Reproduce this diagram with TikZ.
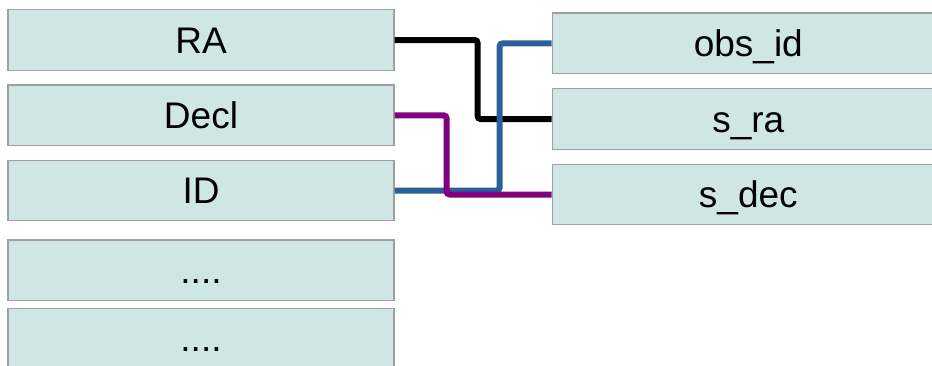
\documentclass[tikz,border=0pt]{standalone}
\usepackage{fontspec}
\setmainfont{Liberation Sans}

\definecolor{cellfill}{RGB}{207,231,228}
\definecolor{cellline}{RGB}{160,160,160}
\definecolor{linkblue}{RGB}{42,96,153}
\definecolor{linkpurple}{RGB}{128,0,128}

\tikzset{
    cell/.style={draw=cellline, line width=1.2pt, fill=cellfill,
        minimum width=386pt, minimum height=60.5pt, inner sep=0pt,
        text height=26pt, text depth=0pt,
        font=\fontsize{37}{40}\selectfont},
    rcell/.style={cell, minimum width=420pt},
    link/.style={line width=6pt, rounded corners=3pt}
}

\begin{document}
\begin{tikzpicture}[x=1pt,y=-1pt]

\useasboundingbox (0,0) rectangle (932,365);
\clip (0,0) rectangle (932,365);

% Colonnes de gauche
\node[cell] (ra)    at (201,40)    {RA};
\node[cell] (decl)  at (201,115.3) {Decl};
\node[cell] (id)    at (201,190.5) {ID};
\node[cell] (dotsA) at (201,270.3) {....};
\node[cell] (dotsB) at (201,338.5) {....};

% Colonnes de droite (texte centre a x=748)
\node[rcell] (obsid) at (762.3,43.3)  {\hspace*{-28pt}obs\_id};
\node[rcell] (sra)   at (762.3,119)   {\hspace*{-28pt}s\_ra};
\node[rcell] (sdec)  at (762.3,194.5) {\hspace*{-28pt}s\_dec};

% Liaisons
\draw[link, black]
(ra.east)
-- ++(83,0)
|- (sra.west);

\draw[link, linkblue]
(id.east)
-- ++(105,0)
|- (obsid.west);

\draw[link, linkpurple]
(decl.east)
-- ++(52,0)
|- (sdec.west);

\end{tikzpicture}
\end{document}
